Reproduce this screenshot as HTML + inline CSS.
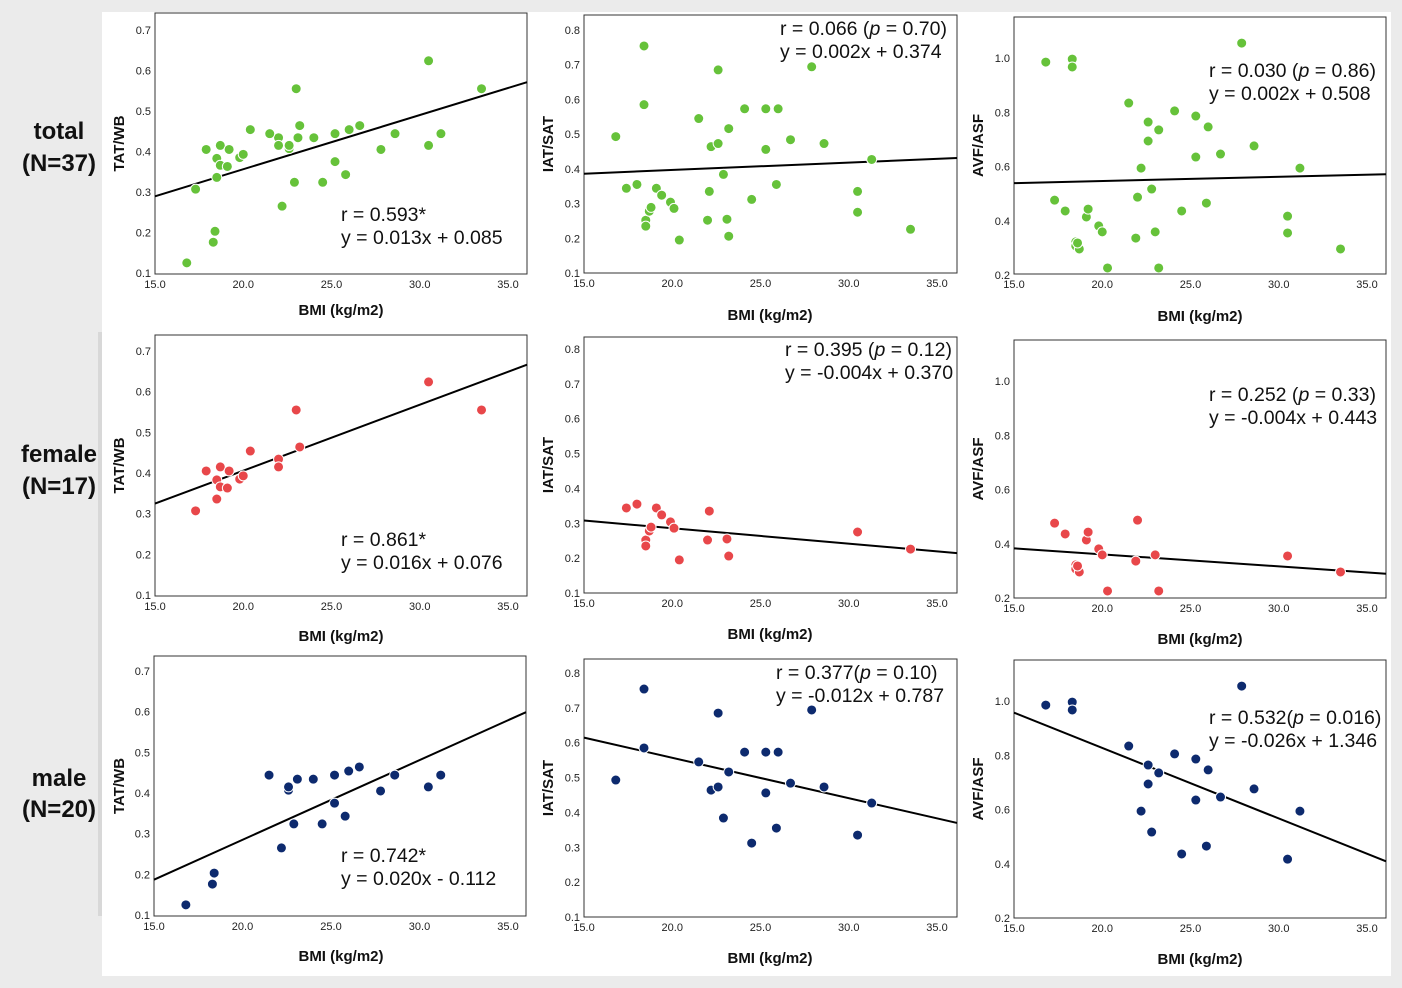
<!DOCTYPE html>
<html><head><meta charset="utf-8">
<style>
html,body{margin:0;padding:0;background:#ebebeb;}
svg{display:block;font-family:"Liberation Sans",Arial,sans-serif;}
.tick{font-size:11px;fill:#222;}
.ttl{font-size:15px;font-weight:bold;fill:#111;}
.ann{font-size:19.5px;fill:#111;}
.row{font-size:24px;fill:#111;font-weight:bold;}
</style></head>
<body>
<svg id="fig" width="1402" height="988" viewBox="0 0 1402 988">
<rect x="102" y="12" width="1289" height="964" fill="#fff"/>
<rect x="98" y="332" width="4" height="584" fill="#d8d8d8"/>
<g id="labels">
<text class="row" x="59" y="139" text-anchor="middle">total</text>
<text class="row" x="59" y="171" text-anchor="middle">(N=37)</text>
<text class="row" x="59" y="462" text-anchor="middle">female</text>
<text class="row" x="59" y="494" text-anchor="middle">(N=17)</text>
<text class="row" x="59" y="786" text-anchor="middle">male</text>
<text class="row" x="59" y="817" text-anchor="middle">(N=20)</text>
</g>
</svg>
<script>
// ---- data ----
const femaleBMI_tat = [17.3,17.9,18.5,18.5,18.7,18.7,19.1,19.2,19.8,20.0,20.4,22.0,22.0,23.0,23.2,30.5,33.5];
const femaleTAT = [0.307,0.405,0.383,0.336,0.415,0.366,0.363,0.405,0.385,0.393,0.454,0.434,0.415,0.555,0.464,0.624,0.555];
const femaleBMI_iat = [17.4,18.0,18.5,18.5,18.7,18.8,19.1,19.4,19.9,20.1,20.4,22.0,22.1,23.1,23.2,30.5,33.5];
const femaleIAT = [0.344,0.355,0.252,0.235,0.278,0.289,0.344,0.324,0.304,0.286,0.195,0.252,0.335,0.255,0.206,0.275,0.226];
const femaleBMI_avf = [17.3,17.9,18.5,18.5,18.7,18.6,19.1,19.2,19.8,20.0,20.3,22.0,21.9,23.0,23.2,30.5,33.5];
const femaleAVF = [0.476,0.436,0.322,0.307,0.296,0.318,0.414,0.443,0.381,0.359,0.226,0.487,0.336,0.359,0.226,0.355,0.296];
const maleBMI_tat = [16.8,18.4,18.3,21.5,22.2,22.6,22.6,22.9,23.1,24.0,24.5,25.2,25.2,25.8,26.0,26.6,27.8,28.6,30.5,31.2];
const maleTAT = [0.125,0.203,0.176,0.444,0.265,0.407,0.415,0.324,0.434,0.434,0.324,0.444,0.375,0.343,0.454,0.464,0.405,0.444,0.415,0.444];
const maleBMI_iat = [16.8,18.4,18.4,21.5,22.2,22.6,22.6,22.9,23.2,24.1,24.5,25.3,25.3,25.9,26.0,26.7,27.9,28.6,30.5,31.3];
const maleIAT = [0.493,0.754,0.585,0.545,0.464,0.685,0.473,0.384,0.516,0.573,0.312,0.573,0.456,0.355,0.573,0.484,0.694,0.473,0.335,0.427];
const maleBMI_avf = [16.8,18.3,18.3,21.5,22.2,22.6,22.6,22.8,23.2,24.1,24.5,25.3,25.3,25.9,26.0,26.7,27.9,28.6,30.5,31.2];
const maleAVF = [0.985,0.996,0.967,0.834,0.594,0.764,0.694,0.517,0.735,0.805,0.436,0.786,0.635,0.465,0.746,0.646,1.055,0.676,0.417,0.594];
const xTicks = [15,20,25,30,35];
const tickTAT = [0.1,0.2,0.3,0.4,0.5,0.6,0.7];
const tickIAT = [0.1,0.2,0.3,0.4,0.5,0.6,0.7,0.8];
const tickAVF = [0.2,0.4,0.6,0.8,1.0];
const annotations = [
 ["r = 0.593*","y = 0.013x + 0.085"],
 ["r = 0.066 (<i>p</i> = 0.70)","y = 0.002x + 0.374"],
 ["r = 0.030 (<i>p</i> = 0.86)","y = 0.002x + 0.508"],
 ["r = 0.861*","y = 0.016x + 0.076"],
 ["r = 0.395 (<i>p</i> = 0.12)","y = -0.004x + 0.370"],
 ["r = 0.252 (<i>p</i> = 0.33)","y = -0.004x + 0.443"],
 ["r = 0.742*","y = 0.020x - 0.112"],
 ["r = 0.377(<i>p</i> = 0.10)","y = -0.012x + 0.787"],
 ["r = 0.532(<i>p</i> = 0.016)","y = -0.026x + 1.346"]
];

const NS="http://www.w3.org/2000/svg";
const svg=document.getElementById('fig');
function mk(tag,attrs,parent){const e=document.createElementNS(NS,tag);for(const k in attrs)e.setAttribute(k,attrs[k]);(parent||svg).appendChild(e);return e;}

const G=[
 {l:155,t:13,r:527,b:274,x15:155,x35:508,v0:0.1,p0:273,v1:0.7,p1:30,yt:tickTAT,yl:"TAT/WB",ax:341,ay:315,yx:124,ann:[341,221]},
 {l:584,t:15,r:957,b:273,x15:584,x35:937,v0:0.1,p0:273,v1:0.8,p1:30,yt:tickIAT,yl:"IAT/SAT",ax:770,ay:320,yx:553,ann:[780,35]},
 {l:1014,t:17,r:1386,b:274,x15:1014,x35:1367,v0:0.2,p0:275,v1:1.0,p1:58,yt:tickAVF,yl:"AVF/ASF",ax:1200,ay:321,yx:983,ann:[1209,77]},
 {l:155,t:335,r:527,b:596,x15:155,x35:508,v0:0.1,p0:595,v1:0.7,p1:351,yt:tickTAT,yl:"TAT/WB",ax:341,ay:641,yx:124,ann:[341,546]},
 {l:584,t:337,r:957,b:593,x15:584,x35:937,v0:0.1,p0:593,v1:0.8,p1:349,yt:tickIAT,yl:"IAT/SAT",ax:770,ay:639,yx:553,ann:[785,356]},
 {l:1014,t:340,r:1386,b:598,x15:1014,x35:1367,v0:0.2,p0:598,v1:1.0,p1:381,yt:tickAVF,yl:"AVF/ASF",ax:1200,ay:644,yx:983,ann:[1209,401]},
 {l:154,t:656,r:526,b:916,x15:154,x35:508,v0:0.1,p0:915,v1:0.7,p1:671,yt:tickTAT,yl:"TAT/WB",ax:341,ay:961,yx:124,ann:[341,862]},
 {l:584,t:659,r:957,b:917,x15:584,x35:937,v0:0.1,p0:917,v1:0.8,p1:673,yt:tickIAT,yl:"IAT/SAT",ax:770,ay:963,yx:553,ann:[776,679]},
 {l:1014,t:660,r:1386,b:918,x15:1014,x35:1367,v0:0.2,p0:918,v1:1.0,p1:701,yt:tickAVF,yl:"AVF/ASF",ax:1200,ay:964,yx:983,ann:[1209,724]}
];
const sets=[
 [femaleBMI_tat.concat(maleBMI_tat),femaleTAT.concat(maleTAT),"#66c23a"],
 [femaleBMI_iat.concat(maleBMI_iat),femaleIAT.concat(maleIAT),"#66c23a"],
 [femaleBMI_avf.concat(maleBMI_avf),femaleAVF.concat(maleAVF),"#66c23a"],
 [femaleBMI_tat,femaleTAT,"#e8474a"],
 [femaleBMI_iat,femaleIAT,"#e8474a"],
 [femaleBMI_avf,femaleAVF,"#e8474a"],
 [maleBMI_tat,maleTAT,"#0d2a6e"],
 [maleBMI_iat,maleIAT,"#0d2a6e"],
 [maleBMI_avf,maleAVF,"#0d2a6e"]
];
const names=["total","total","total","female","female","female","male","male","male"];
const metr=["tat-wb","iat-sat","avf-asf","tat-wb","iat-sat","avf-asf","tat-wb","iat-sat","avf-asf"];

function richText(el,str){
 const parts=str.split(/(<i>.*?<\/i>)/);
 parts.forEach(p=>{
  if(!p)return;
  const ts=mk('tspan',{},el);
  if(p.startsWith('<i>')){ts.setAttribute('font-style','italic');ts.textContent=p.replace(/<\/?i>/g,'');}
  else ts.textContent=p;
 });
}

G.forEach((g,i)=>{
 const xs=v=>g.x15+(v-15)*(g.x35-g.x15)/20;
 const ys=v=>g.p0+(v-g.v0)*(g.p1-g.p0)/(g.v1-g.v0);
 const grp=mk('g',{});
 
 
 const box=mk('rect',{x:g.l,y:g.t,width:g.r-g.l,height:g.b-g.t,fill:'#fff',stroke:'#333','stroke-width':1},grp);
 
 
 xTicks.forEach(v=>{
  const t=mk('text',{x:xs(v),y:g.b+14,'text-anchor':'middle',class:'tick'},grp);t.textContent=v.toFixed(1);
  
  
 });
 g.yt.forEach(v=>{
  const t=mk('text',{x:g.l-4,y:ys(v)+4,'text-anchor':'end',class:'tick'},grp);t.textContent=v.toFixed(1);
  
  
 });
 const xt=mk('text',{x:g.ax,y:g.ay,'text-anchor':'middle',class:'ttl'},grp);xt.textContent='BMI (kg/m2)';
 
 
 const cy=(g.t+g.b)/2;
 const yt=mk('text',{x:g.yx,y:cy,'text-anchor':'middle',class:'ttl',transform:`rotate(-90 ${g.yx} ${cy})`},grp);yt.textContent=g.yl;
 
 
 const X=sets[i][0],Y=sets[i][1],n=X.length;
 let mx=0,my=0;X.forEach((v,k)=>{mx+=v;my+=Y[k];});mx/=n;my/=n;
 let sxy=0,sxx=0;X.forEach((v,k)=>{sxy+=(v-mx)*(Y[k]-my);sxx+=(v-mx)*(v-mx);});
 const b=sxy/sxx,a=my-b*mx;
 const xl=15+(g.l-g.x15)*20/(g.x35-g.x15),xr=15+(g.r-g.x15)*20/(g.x35-g.x15);
 const ln=mk('line',{x1:g.l,y1:ys(a+b*xl),x2:g.r,y2:ys(a+b*xr),stroke:'#000','stroke-width':2},grp);
 
 
 X.forEach((v,k)=>{
  const c=mk('circle',{cx:xs(v),cy:ys(Y[k]),r:5,fill:sets[i][2],stroke:'#fff','stroke-width':1},grp);
  
  
 });
 const an=annotations[i];
 const t1=mk('text',{x:g.ann[0],y:g.ann[1],class:'ann'},grp);richText(t1,an[0]);
 
 
 const t2=mk('text',{x:g.ann[0],y:g.ann[1]+23,class:'ann'},grp);t2.textContent=an[1];
 
 
});
</script>
</body></html>
